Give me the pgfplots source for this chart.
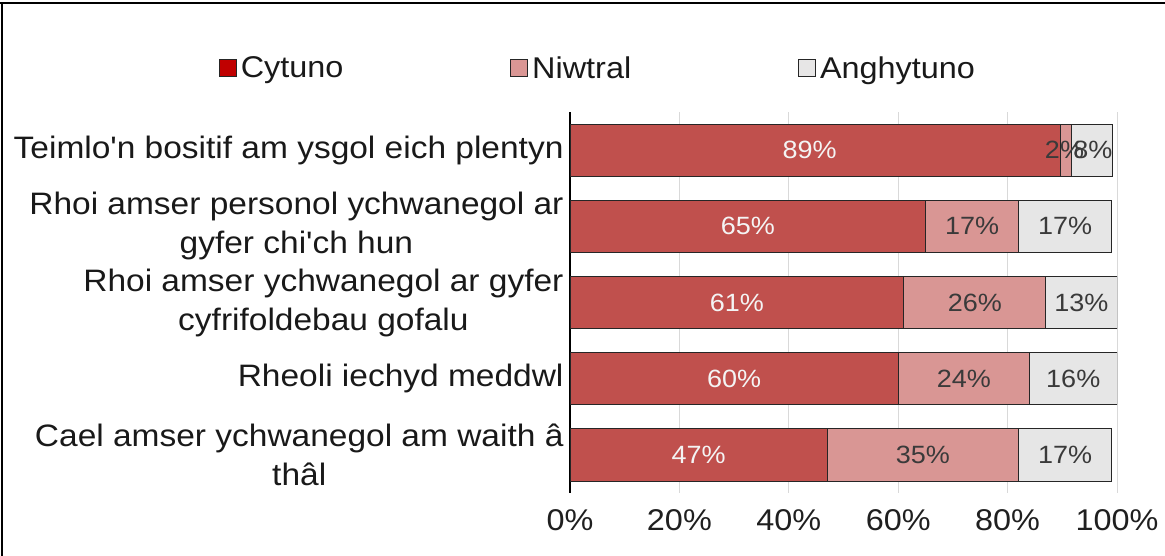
\documentclass[border=0pt]{standalone}
\usepackage{fontspec}
\setmainfont{Liberation Sans}[FakeStretch=1.08, Ligatures=TeXOff]
\usepackage{pgfplots}
\pgfplotsset{compat=1.18}
\definecolor{cC}{HTML}{C0504D}
\definecolor{cN}{HTML}{D99694}
\definecolor{cA}{HTML}{E6E6E6}
\definecolor{lC}{HTML}{C00000}
\definecolor{lN}{HTML}{DA9694}
\definecolor{lA}{HTML}{E7E6E6}
\definecolor{edge}{HTML}{262626}
\definecolor{gridc}{HTML}{D9D9D9}
\definecolor{labd}{HTML}{3A3A3A}
\definecolor{labw}{HTML}{F4F4F4}

\begin{document}
\begin{tikzpicture}
\useasboundingbox (0bp,0bp) rectangle (1165bp,556bp);
\draw[black, line width=1.2bp] (0bp,553bp) -- (1165bp,553bp);
\draw[black, line width=1.2bp] (2bp,0bp) -- (2bp,553bp);
\begin{axis}[
  at={(570bp,63bp)}, anchor=south west,
  scale only axis, width=547bp, height=381bp,
  xbar stacked, bar width=0.683,
  xmin=0, xmax=100, ymin=-0.5, ymax=4.5,
  axis y line*=left, axis x line*=bottom,
  x axis line style={draw=none},
  y axis line style={draw=black, line width=1.4bp, -},
  major tick length=0pt,
  xtick={0,20,40,60,80,100},
  xticklabels={0\%,20\%,40\%,60\%,80\%,100\%},
  xticklabel style={font=\fontsize{30bp}{36bp}\selectfont, text=black!88, yshift=-13bp},
  ytick={0,1,2,3,4},
  yticklabels={{Cael amser ychwanegol am waith â\\thâl},
               {Rheoli iechyd meddwl},
               {Rhoi amser ychwanegol ar gyfer\\cyfrifoldebau gofalu},
               {Rhoi amser personol ychwanegol ar\\gyfer chi'ch hun},
               {Teimlo'n bositif am ysgol eich plentyn}},
  yticklabel style={font=\fontsize{31bp}{39bp}\selectfont, align=center, xshift=-3bp, text=black!90},
  xmajorgrids, grid style={gridc, line width=1bp},
  legend columns=3,
  legend style={at={(0.053,1.1155)}, anchor=center, draw=none, fill=none,
    font=\fontsize{30bp}{36bp}\selectfont, text=black!90,
    nodes={inner sep=2bp, inner xsep=4bp},
    /tikz/every even column/.append style={column sep=163bp}},
]
\addplot[fill=cC, draw=edge, line width=0.8bp,
  legend image code/.code={\draw[draw=edge, line width=0.8bp, fill=lC] (0bp,-8.5bp) rectangle (17bp,8.5bp);}]
  coordinates {(47,0) (60,1) (61,2) (65,3) (89.6,4)};
\addplot[fill=cN, draw=edge, line width=0.8bp,
  legend image code/.code={\draw[draw=edge, line width=0.8bp, fill=lN] (0bp,-8.5bp) rectangle (17bp,8.5bp);}]
  coordinates {(35,0) (24,1) (26,2) (17,3) (2.1,4)};
\addplot[fill=cA, draw=edge, line width=0.8bp,
  legend image code/.code={\draw[draw=edge, line width=0.8bp, fill=lA] (0bp,-8.5bp) rectangle (17bp,8.5bp);}]
  coordinates {(17,0) (16,1) (13,2) (17,3) (7.4,4)};
\legend{Cytuno, Niwtral, Anghytuno}
\end{axis}
\begin{axis}[
  at={(570bp,63bp)}, anchor=south west,
  scale only axis, width=547bp, height=381bp,
  xmin=0, xmax=100, ymin=-0.5, ymax=4.5,
  hide axis,
  /pgf/number format/assume math mode=true,
  point meta=explicit,
  nodes near coords={\pgfmathprintnumber{\pgfplotspointmeta}\%},
  every node near coord/.append style={anchor=center, font=\fontsize{25bp}{29bp}\selectfont},
]
\addplot[draw=none, mark=none, every node near coord/.append style={text=labw}]
  table[meta=v] {
x y v
23.5 0 47
30 1 60
30.5 2 61
32.5 3 65
43.8 4 89
};
\addplot[draw=none, mark=none, every node near coord/.append style={text=labd}]
  table[meta=v] {
x y v
64.5 0 35
72 1 24
74 2 26
73.5 3 17
90.4 4 2
};
\addplot[draw=none, mark=none, every node near coord/.append style={text=labd}]
  table[meta=v] {
x y v
90.5 0 17
92 1 16
93.5 2 13
90.5 3 17
95.6 4 8
};
\end{axis}
\end{tikzpicture}
\end{document}
